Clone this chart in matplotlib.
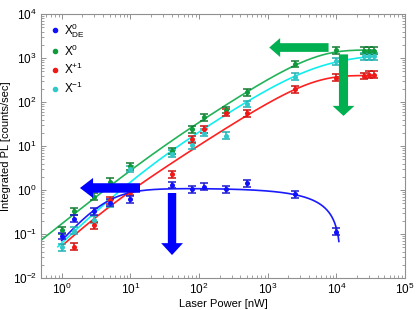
import numpy as np
import matplotlib
matplotlib.use("Agg")
import matplotlib.pyplot as plt
from matplotlib.lines import Line2D
from matplotlib.patches import FancyArrow
from matplotlib.ticker import NullFormatter, FixedLocator, LogFormatterSciNotation

plt.rcParams['font.family'] = ['Liberation Sans', 'DejaVu Sans']
plt.rcParams['mathtext.fontset'] = 'custom'
plt.rcParams['mathtext.rm'] = 'Liberation Sans'
plt.rcParams['mathtext.it'] = 'Liberation Sans:italic'
plt.rcParams['mathtext.bf'] = 'Liberation Sans:bold'

# ---------------- data ----------------
power_de = [1, 1.5, 3, 5, 10, 40, 80, 120, 250, 500, 2500, 10000]
pl_de = [0.09, 0.22, 0.33, 0.51, 0.61, 1.3, 1.04, 1.19, 1.04, 1.42, 0.8, 0.113]

power_x0 = [1, 1.5, 3, 5, 10, 40, 80, 120, 250, 500, 2500, 10000, 25000, 30000, 35000]
pl_x0 = [0.123, 0.33, 0.70, 1.54, 3.5, 7.7, 23.9, 44.9, 65.8, 166, 730, 1500, 1460, 1460, 1460]

power_xp = [1.5, 3, 5, 10, 40, 80, 120, 250, 500, 2500, 10000, 25000, 30000, 35000]
pl_xp = [0.051, 0.16, 0.59, 0.9, 2.3, 14.4, 24, 57, 55, 194, 360, 390, 420, 420]

power_xm = [1, 1.5, 3, 5, 10, 40, 80, 120, 250, 500, 2500, 10000, 25000, 30000, 35000]
pl_xm = [0.05, 0.12, 0.21, 0.5, 3.0, 6.6, 10.5, 20, 17.1, 90, 376, 850, 1100, 1100, 1100]

x_major = [1e0, 1e1, 1e2, 1e3, 1e4, 1e5]
y_major = [1e-2, 1e-1, 1e0, 1e1, 1e2, 1e3, 1e4]

err_factor = 1.2

labels = [r'$\mathregular{X^{0}_{DE}}$', r'$\mathregular{X^{0}}$',
          r'$\mathregular{X^{+1}}$', r'$\mathregular{X^{-1}}$']

# fit model parameters
fit_x0 = dict(L=1520, xs=4176, k=50, a=1.25, x0=20, xmin=0.5, xmax=36000)
fit_xp = dict(L=400, xs=3765, k=50, a=1.5, x0=3, xmin=1.0, xmax=36000)
fit_xm = dict(L=1273, xs=5700, k=1, a=1.5, x0=12, xmin=0.88, xmax=36000)
fit_de = dict(A=1.1, n=1.75, x0=4.6, xc=11800, p=0.8, xmin=1.0, xmax=10900)


def exciton_fit(x, L, xs, k, a, x0, **_):
    u = x / xs
    s = 1 - (1 + u / k) ** (-k)
    return L * s * (x / (x + x0)) ** (a - 1)


def dark_fit(x, A, n, x0, xc, p, **_):
    return A * x ** n / (x0 ** n + x ** n) * (1 - (x / xc) ** p)


col_de, col_de_e, col_de_l = '#1010ff', '#1a1ad0', '#1a1aff'
col_x0, col_x0_e, col_x0_l = '#0f9a3c', '#127a30', '#22b359'
col_xp, col_xp_e, col_xp_l = '#f01818', '#d01010', '#ff2020'
col_xm, col_xm_e, col_xm_l = '#30c8c8', '#20b0b0', '#10eeee'

fig = plt.figure(figsize=(4.16, 3.10), dpi=100)
ax = fig.add_axes([41 / 416, 32 / 310, 364 / 416, 264 / 310])
ax.set_xscale('log')
ax.set_yscale('log')
ax.set_xlim(0.5, 1e5)
ax.set_ylim(1e-2, 1e4)

x_minor = [m * 10.0 ** e for e in range(-1, 5) for m in range(2, 10)
           if 0.5 <= m * 10.0 ** e <= 1e5]
y_minor = [m * 10.0 ** e for e in range(-2, 4) for m in range(2, 10)]
ax.xaxis.set_major_locator(FixedLocator(x_major))
ax.yaxis.set_major_locator(FixedLocator(y_major))
ax.xaxis.set_minor_locator(FixedLocator(x_minor))
ax.yaxis.set_minor_locator(FixedLocator(y_minor))
ax.xaxis.set_major_formatter(LogFormatterSciNotation())
ax.yaxis.set_major_formatter(LogFormatterSciNotation())
ax.xaxis.set_minor_formatter(NullFormatter())
ax.yaxis.set_minor_formatter(NullFormatter())

# fit lines
for fp, c in [(fit_x0, col_x0_l), (fit_xm, col_xm_l), (fit_xp, col_xp_l)]:
    xx = np.logspace(np.log10(fp['xmin']), np.log10(fp['xmax']), 400)
    ax.plot(xx, exciton_fit(xx, **fp), color=c, lw=1.2, zorder=2)
xx = np.logspace(np.log10(fit_de['xmin']), np.log10(fit_de['xmax']), 400)
ax.plot(xx, dark_fit(xx, **fit_de), color=col_de_l, lw=1.2, zorder=2)

# data with error bars
for xs_, ys_, c, ce in [(power_x0, pl_x0, col_x0, col_x0_e),
                        (power_xm, pl_xm, col_xm, col_xm_e),
                        (power_xp, pl_xp, col_xp, col_xp_e),
                        (power_de, pl_de, col_de, col_de_e)]:
    ys_ = np.array(ys_)
    yerr = [ys_ - ys_ / err_factor, ys_ * err_factor - ys_]
    ax.errorbar(xs_, ys_, yerr=yerr, fmt='o', ms=2.6, color=c, mfc=c, mec=c,
                ecolor=ce, elinewidth=1.1, capsize=2.6, capthick=1.1, zorder=3)

# arrows (axes fraction coordinates)
T = ax.transAxes
arrow_green = '#00b050'
arrow_blue = '#0000ff'
ax.add_patch(FancyArrow(0.790, 0.873, -0.163, 0, width=0.033, head_width=0.072,
                        head_length=0.030, length_includes_head=True,
                        color=arrow_green, transform=T, zorder=5, lw=0))
ax.add_patch(FancyArrow(0.831, 0.847, 0, -0.233, width=0.025, head_width=0.060,
                        head_length=0.038, length_includes_head=True,
                        color=arrow_green, transform=T, zorder=5, lw=0))
ax.add_patch(FancyArrow(0.272, 0.341, -0.165, 0, width=0.036, head_width=0.076,
                        head_length=0.036, length_includes_head=True,
                        color=arrow_blue, transform=T, zorder=5, lw=0))
ax.add_patch(FancyArrow(0.360, 0.322, 0, -0.235, width=0.023, head_width=0.060,
                        head_length=0.045, length_includes_head=True,
                        color=arrow_blue, transform=T, zorder=5, lw=0))

# axes styling
for sp in ax.spines.values():
    sp.set_color('#909090')
    sp.set_linewidth(0.8)
ax.tick_params(which='both', direction='in', top=True, right=True,
               colors='#909090', labelcolor='black', labelsize=8.5)
ax.tick_params(which='major', length=3.5, width=0.7, pad=3)
ax.tick_params(which='minor', length=2, width=0.6)
ax.set_xlabel('Laser Power [nW]', fontsize=8, labelpad=1)
ax.set_ylabel('Integrated PL [counts/sec]', fontsize=8, labelpad=1)

handles = [Line2D([], [], ls='none', marker='o', ms=3, color=c)
           for c in [col_de, col_x0, col_xp, col_xm]]
leg = ax.legend(handles, labels, loc='upper left', bbox_to_anchor=(0.01, 1.0),
                frameon=False, fontsize=8.5, handlelength=0.6, handletextpad=0.4,
                labelspacing=0.3, borderaxespad=0.2)

fig.savefig('out.png', dpi=100)
